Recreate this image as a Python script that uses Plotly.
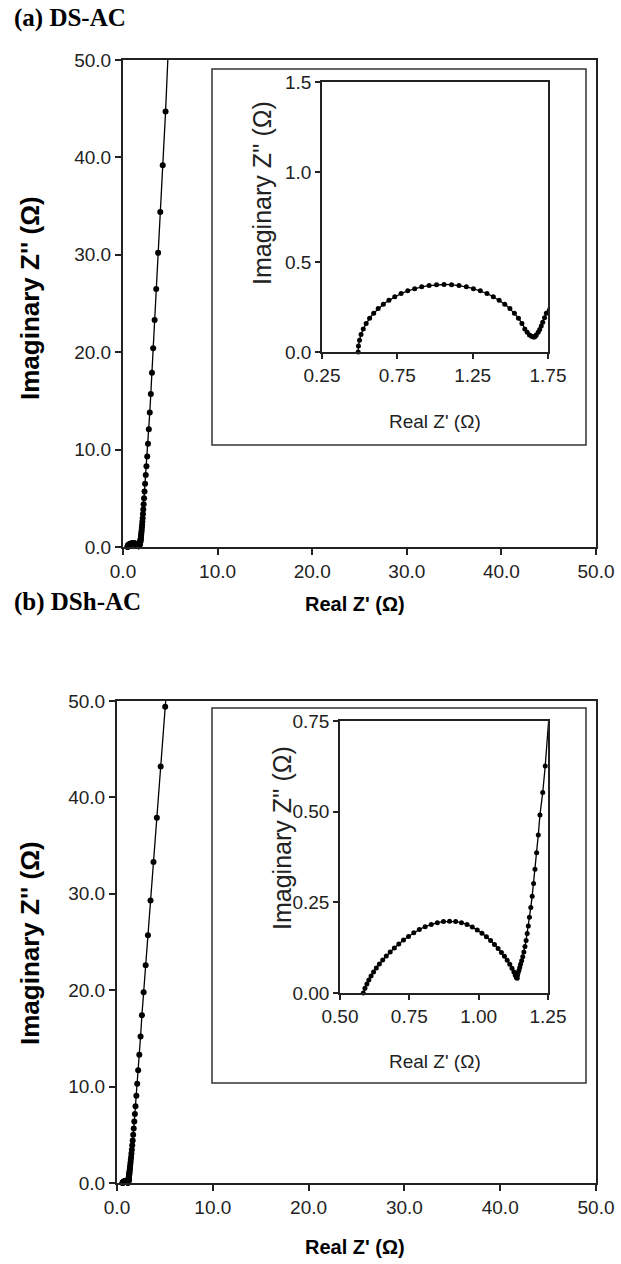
import numpy as np
import plotly.graph_objects as go

# ---------------- data: (a) DS-AC ----------------
a_arc_x = [0.490, 0.492, 0.499, 0.509, 0.524, 0.543, 0.566, 0.593, 0.623, 0.657, 0.694, 0.733,
           0.775, 0.819, 0.865, 0.912, 0.961, 1.010, 1.060, 1.110, 1.159, 1.208, 1.255, 1.301,
           1.345, 1.387, 1.426, 1.463, 1.497, 1.527, 1.554, 1.577, 1.596, 1.612, 1.627, 1.640,
           1.652, 1.661, 1.668]
a_arc_y = [0.000, 0.033, 0.065, 0.097, 0.128, 0.158, 0.188, 0.215, 0.241, 0.265, 0.287, 0.307,
           0.325, 0.340, 0.352, 0.362, 0.369, 0.374, 0.375, 0.374, 0.369, 0.362, 0.352, 0.340,
           0.325, 0.307, 0.287, 0.265, 0.241, 0.215, 0.188, 0.158, 0.128, 0.110, 0.095, 0.087,
           0.083, 0.084, 0.090]
a_tail_x = [1.672, 1.685, 1.695, 1.705, 1.715, 1.727, 1.739, 1.752, 1.765, 1.778, 1.790, 1.802,
            1.815, 1.828, 1.840, 1.853, 1.867, 1.881, 1.896, 1.912, 1.930, 1.950, 1.972, 1.995,
            2.020, 2.047, 2.076, 2.108, 2.143, 2.182, 2.225, 2.275, 2.335, 2.405, 2.480, 2.560,
            2.640, 2.730, 2.830, 2.940, 3.060, 3.190, 3.340, 3.510, 3.710, 3.940, 4.200, 4.500,
            4.780]
a_tail_y = [0.095, 0.110, 0.125, 0.145, 0.165, 0.190, 0.215, 0.245, 0.280, 0.320, 0.360, 0.410,
            0.470, 0.540, 0.610, 0.700, 0.800, 0.910, 1.040, 1.180, 1.350, 1.540, 1.750, 2.000,
            2.280, 2.600, 2.960, 3.380, 3.850, 4.400, 5.000, 5.700, 6.500, 7.400, 8.300, 9.300,
            10.6, 12.1, 13.8, 15.7, 17.9, 20.4, 23.3, 26.5, 30.2, 34.4, 39.2, 44.7, 51.0]

# ---------------- data: (b) DSh-AC ----------------
b_arc_x = [0.584, 0.590, 0.597, 0.604, 0.612, 0.621, 0.631, 0.642, 0.654, 0.667, 0.681, 0.696,
           0.712, 0.729, 0.747, 0.766, 0.786, 0.807, 0.829, 0.851, 0.873, 0.895, 0.917, 0.938,
           0.958, 0.977, 0.995, 1.012, 1.028, 1.043, 1.057, 1.070, 1.082, 1.093, 1.103, 1.112,
           1.120, 1.127, 1.132, 1.136, 1.139]
b_arc_y = [0.000, 0.013, 0.025, 0.036, 0.047, 0.058, 0.069, 0.080, 0.091, 0.102, 0.113, 0.124,
           0.135, 0.146, 0.156, 0.166, 0.175, 0.183, 0.189, 0.194, 0.197, 0.198, 0.197, 0.194,
           0.189, 0.182, 0.174, 0.165, 0.155, 0.145, 0.134, 0.123, 0.112, 0.101, 0.090, 0.079,
           0.068, 0.058, 0.049, 0.043, 0.041]
b_tail_x = [1.140, 1.142, 1.145, 1.148, 1.151, 1.155, 1.159, 1.163, 1.167, 1.171, 1.175, 1.179,
            1.183, 1.188, 1.193, 1.198, 1.203, 1.209, 1.215, 1.221, 1.231, 1.240, 1.251, 1.262,
            1.275, 1.290, 1.305, 1.322, 1.341, 1.362, 1.386, 1.412, 1.441, 1.473, 1.508, 1.547,
            1.590, 1.637, 1.689, 1.745, 1.806, 1.868, 1.930, 2.020, 2.110, 2.210, 2.330, 2.460,
            2.600, 2.780, 2.990, 3.230, 3.500, 3.810, 4.160, 4.560, 5.030, 5.560]
b_tail_y = [0.049, 0.055, 0.062, 0.070, 0.079, 0.089, 0.100, 0.113, 0.128, 0.145, 0.164, 0.185,
            0.209, 0.236, 0.267, 0.302, 0.341, 0.387, 0.436, 0.491, 0.553, 0.626, 0.709, 0.800,
            0.900, 1.020, 1.150, 1.300, 1.470, 1.660, 1.880, 2.120, 2.400, 2.710, 3.060, 3.460,
            3.910, 4.420, 5.000, 5.650, 6.380, 7.150, 7.950, 9.050, 10.30, 11.70, 13.30, 15.20,
            17.40, 19.80, 22.60, 25.70, 29.30, 33.30, 37.90, 43.20, 49.40, 56.30]

main_ticks = [0, 10, 20, 30, 40, 50]
inset_a_xticks = [0.25, 0.75, 1.25, 1.75]
inset_a_yticks = [0.0, 0.5, 1.0, 1.5]
inset_b_xticks = [0.50, 0.75, 1.00, 1.25]
inset_b_yticks = [0.00, 0.25, 0.50, 0.75]

W, H = 621, 1264
SANS = "Liberation Sans, Arial, sans-serif"
SERIF = "Liberation Serif, Times New Roman, serif"


def px_x(p):
    return p / W


def px_y(p):
    return 1 - p / H


fig = go.Figure()


def add_series(xs, ys, xa, ya, xr, yr, msize):
    xs = np.asarray(xs)
    ys = np.asarray(ys)
    fig.add_trace(go.Scatter(x=xs, y=ys, mode="lines", xaxis=xa, yaxis=ya,
                             line=dict(color="black", width=1.3), showlegend=False,
                             hoverinfo="skip"))
    m = (xs >= xr[0]) & (xs <= xr[1] + 1e-9) & (ys >= yr[0]) & (ys <= yr[1] + 1e-9)
    fig.add_trace(go.Scatter(x=xs[m], y=ys[m], mode="markers", xaxis=xa, yaxis=ya,
                             marker=dict(color="black", size=msize), cliponaxis=False,
                             showlegend=False))


a_x = a_arc_x + a_tail_x
a_y = a_arc_y + a_tail_y
b_x = b_arc_x + b_tail_x
b_y = b_arc_y + b_tail_y

add_series(a_x, a_y, "x", "y", (0, 50), (0, 50), 6)
add_series(a_x, a_y, "x2", "y2", (0.25, 1.75), (0, 1.5), 5)
add_series(b_x, b_y, "x3", "y3", (0, 50), (0, 50), 6)
add_series(b_x, b_y, "x4", "y4", (0.5, 1.25), (0, 0.75), 5)

tickfont_main = dict(family=SANS, size=19, color="#222")
tickfont_in = dict(family=SANS, size=19, color="#222")


def axis(domain, anchor, rng, ticks, fmt, font, lw, tlen):
    return dict(domain=domain, anchor=anchor, range=rng, tickvals=ticks,
                ticktext=[fmt.format(t) for t in ticks], tickfont=font,
                showgrid=False, zeroline=False, showline=True, mirror=True,
                linecolor="#222", linewidth=lw, ticks="outside", ticklen=tlen,
                tickwidth=lw, tickcolor="#222", fixedrange=True, automargin=False)


fig.update_layout(
    template="none",
    width=W, height=H, autosize=False,
    margin=dict(l=0, r=0, t=0, b=0, pad=0),
    paper_bgcolor="white", plot_bgcolor="white",
    xaxis=axis([px_x(123), px_x(596)], "y", [0, 50], main_ticks, "{:.1f}", tickfont_main, 2, 6),
    yaxis=axis([px_y(547), px_y(60)], "x", [0, 50], main_ticks, "{:.1f}", tickfont_main, 2, 6),
    xaxis2=axis([px_x(322), px_x(548)], "y2", [0.25, 1.75], inset_a_xticks, "{:.2f}", tickfont_in, 1.5, 5),
    yaxis2=axis([px_y(352), px_y(82)], "x2", [0, 1.5], inset_a_yticks, "{:.1f}", tickfont_in, 1.5, 5),
    xaxis3=axis([px_x(117), px_x(596)], "y3", [0, 50], main_ticks, "{:.1f}", tickfont_main, 2, 6),
    yaxis3=axis([px_y(1183), px_y(701)], "x3", [0, 50], main_ticks, "{:.1f}", tickfont_main, 2, 6),
    xaxis4=axis([px_x(340), px_x(548)], "y4", [0.5, 1.25], inset_b_xticks, "{:.2f}", tickfont_in, 1.5, 5),
    yaxis4=axis([px_y(993), px_y(721)], "x4", [0, 0.75], inset_b_yticks, "{:.2f}", tickfont_in, 1.5, 5),
)

# inset chart-area frames
for (x0, y0, x1, y1) in [(212, 69, 586, 445), (212, 708, 586, 1083)]:
    fig.add_shape(type="rect", xref="paper", yref="paper",
                  x0=px_x(x0), x1=px_x(x1), y0=px_y(y1), y1=px_y(y0),
                  line=dict(color="#333", width=1.5), fillcolor="white", layer="below")

ann = []


def label(text, x, y, font, angle=0, xanchor="center"):
    ann.append(dict(text=text, x=px_x(x), y=px_y(y), xref="paper", yref="paper",
                    showarrow=False, textangle=angle, font=font, xanchor=xanchor,
                    yanchor="middle"))


bold_main = dict(family=SANS, size=20, color="black")
bold_ytitle = dict(family=SANS, size=26, color="black")
reg_in = dict(family=SANS, size=19, color="#222")
reg_in_y = dict(family=SANS, size=25, color="#222")
title_font = dict(family=SERIF, size=25, color="black")

label("<b>(a) DS-AC</b>", 12, 18, title_font, xanchor="left")
label("<b>(b) DSh-AC</b>", 12, 602, title_font, xanchor="left")
label("<b>Imaginary Z'' (Ω)</b>", 30, 298, bold_ytitle, angle=-90)
label("<b>Real Z' (Ω)</b>", 355, 604, bold_main)
label("<b>Imaginary Z'' (Ω)</b>", 30, 943, bold_ytitle, angle=-90)
label("<b>Real Z' (Ω)</b>", 355, 1247, bold_main)
label("Imaginary Z'' (Ω)", 262, 193, reg_in_y, angle=-90)
label("Real Z' (Ω)", 435, 421, reg_in)
label("Imaginary Z'' (Ω)", 282, 838, reg_in_y, angle=-90)
label("Real Z' (Ω)", 435, 1061, reg_in)
fig.update_layout(annotations=ann)

fig.write_html("out.html", config={"displayModeBar": False},
               post_script="document.body.style.margin='0';document.body.style.overflow='hidden';")
